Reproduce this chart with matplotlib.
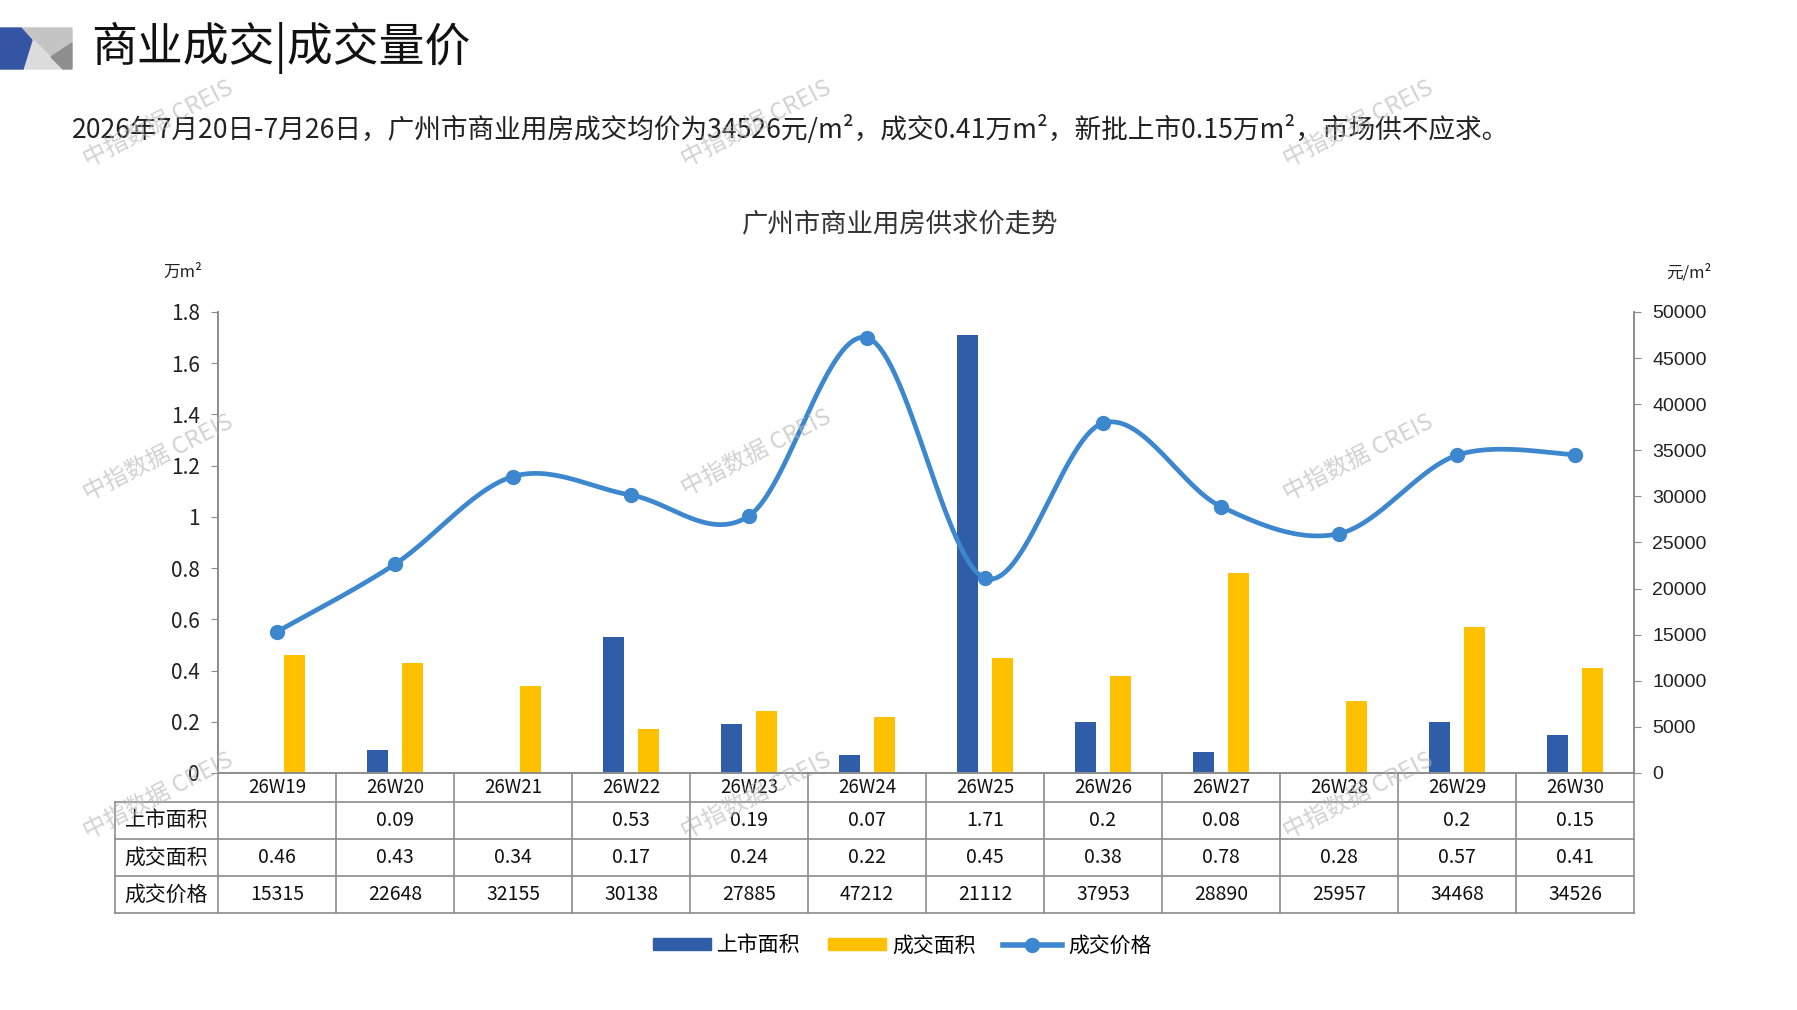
import matplotlib
matplotlib.use('Agg')
import matplotlib.pyplot as plt
from matplotlib.patches import Polygon, Patch
from matplotlib.lines import Line2D
import numpy as np

plt.rcParams['font.family'] = ['Noto Sans CJK SC', 'DejaVu Sans']

weeks = ['26W19', '26W20', '26W21', '26W22', '26W23', '26W24',
         '26W25', '26W26', '26W27', '26W28', '26W29', '26W30']
supply = [None, 0.09, None, 0.53, 0.19, 0.07, 1.71, 0.2, 0.08, None, 0.2, 0.15]
deal = [0.46, 0.43, 0.34, 0.17, 0.24, 0.22, 0.45, 0.38, 0.78, 0.28, 0.57, 0.41]
price = [15315, 22648, 32155, 30138, 27885, 47212, 21112, 37953, 28890, 25957, 34468, 34526]
row_names = ['上市面积', '成交面积', '成交价格']
left_ticks = [0, 0.2, 0.4, 0.6, 0.8, 1, 1.2, 1.4, 1.6, 1.8]
right_ticks = list(range(0, 50001, 5000))

BLUE = '#2F5DA8'
YELLOW = '#FFC000'
LINE = '#3D87CF'
GRID = '#8C8C8C'


def smooth(xs, ys, n=30):
    # bezier curve through the points, like a smoothed office line
    p = np.column_stack([xs, ys]).astype(float)
    out = []
    for i in range(len(p) - 1):
        p0 = p[i - 1] if i > 0 else p[i]
        p1, p2 = p[i], p[i + 1]
        p3 = p[i + 2] if i + 2 < len(p) else p[i + 1]
        c1 = p1 + (p2 - p0) / 6
        c2 = p2 - (p3 - p1) / 6
        t = np.linspace(0, 1, n)[:, None]
        seg = (1 - t) ** 3 * p1 + 3 * (1 - t) ** 2 * t * c1 + 3 * (1 - t) * t ** 2 * c2 + t ** 3 * p2
        out.append(seg if i == 0 else seg[1:])
    out = np.vstack(out)
    return out[:, 0], out[:, 1]


fig = plt.figure(figsize=(17.97, 10.10), dpi=100)

# header logo
W, H = 1797, 1010
def px(pts):
    return [(x / W, 1 - y / H) for x, y in pts]
fig.patches.append(Polygon(px([(21, 28), (72, 28), (72, 43), (51, 57)]), closed=True,
                           transform=fig.transFigure, color='#C4C4C4'))
fig.patches.append(Polygon(px([(21, 28), (63, 69), (23, 69), (32, 40)]), closed=True,
                           transform=fig.transFigure, color='#DCDCDC'))
fig.patches.append(Polygon(px([(72, 43), (51, 57), (63, 69), (72, 69)]), closed=True,
                           transform=fig.transFigure, color='#8E8E8E'))
fig.patches.append(Polygon(px([(0, 28), (21, 28), (32, 40), (23, 69), (0, 69)]), closed=True,
                           transform=fig.transFigure, color='#3455A4'))

fig.text(0.051, 0.9525, '商业成交|成交量价', fontsize=33, va='center', ha='left', color='#111111')
fig.text(0.040, 0.8718,
         '2026年7月20日-7月26日，广州市商业用房成交均价为34526元/m²，成交0.41万m²，新批上市0.15万m²，市场供不应求。',
         fontsize=19.2, va='center', ha='left', color='#222222')
fig.text(0.5008, 0.7776, '广州市商业用房供求价走势', fontsize=19, ha='center', va='center', color='#333333')
fig.text(0.102, 0.730, '万m²', fontsize=12, ha='center', va='center', color='#222222')
fig.text(0.940, 0.730, '元/m²', fontsize=12, ha='center', va='center', color='#222222')

ax = fig.add_axes([0.1213, 0.2347, 0.9093 - 0.1213, 0.6911 - 0.2347])
x = np.arange(len(weeks))
sup_vals = [v if v is not None else 0 for v in supply]
ax.bar(x - 0.145, sup_vals, width=0.178, color=BLUE, zorder=2)
ax.bar(x + 0.145, deal, width=0.178, color=YELLOW, zorder=2)
ax.set_xlim(-0.5, len(weeks) - 0.5)
ax.set_ylim(0, 1.8)
ax.set_yticks(left_ticks)
ax.set_yticklabels([f'{t:g}' for t in left_ticks], fontsize=15, color='#222222')
ax.set_xticks([])
ax.spines['top'].set_visible(False)
for s in ['left', 'right', 'bottom']:
    ax.spines[s].set_color(GRID)
    ax.spines[s].set_linewidth(1.2)
ax.tick_params(axis='y', direction='out', length=5, color=GRID, pad=8)

ax2 = ax.twinx()
sx, sy = smooth(x, price)
ax2.plot(sx, sy, color=LINE, lw=3.4, solid_capstyle='round', zorder=3)
ax2.plot(x, price, 'o', color=LINE, ms=10, zorder=4)
ax2.set_ylim(0, 50000)
ax2.set_yticks(right_ticks)
ax2.set_yticklabels([str(t) for t in right_ticks], fontsize=14, family='Liberation Sans', color='#222222')
ax2.spines['top'].set_visible(False)
for s in ['left', 'right', 'bottom']:
    ax2.spines[s].set_color(GRID)
    ax2.spines[s].set_linewidth(1.2)
ax2.tick_params(axis='y', direction='out', length=5, color=GRID, pad=8)

# data table under the chart
tr = ax.get_xaxis_transform()
rows_y = [0, -0.0629, -0.1432, -0.2234, -0.3037]
x_left = -1.373
x_right = len(weeks) - 0.5
kw = dict(transform=tr, color=GRID, lw=1.2, clip_on=False)
for yy in rows_y[1:]:
    ax.plot([x_left, x_right], [yy, yy], **kw)
ax.plot([x_left, x_left], [rows_y[1], rows_y[-1]], **kw)
for i in range(len(weeks) + 1):
    ax.plot([i - 0.5, i - 0.5], [0, rows_y[-1]], **kw)

cells = [
    ['' if v is None else f'{v:g}' for v in supply],
    [f'{v:g}' for v in deal],
    [str(v) for v in price],
]
hy = (rows_y[0] + rows_y[1]) / 2
for i, wk in enumerate(weeks):
    ax.text(i, hy, wk, transform=tr, ha='center', va='center', fontsize=13.5, color='#111111')
for r, name in enumerate(row_names):
    cy = (rows_y[r + 1] + rows_y[r + 2]) / 2
    ax.text((x_left - 0.5) / 2, cy, name, transform=tr, ha='center', va='center',
            fontsize=15, color='#111111')
    for i, val in enumerate(cells[r]):
        ax.text(i, cy, val, transform=tr, ha='center', va='center', fontsize=14, color='#111111')

# legend
handles = [Patch(color=BLUE), Patch(color=YELLOW),
           Line2D([], [], color=LINE, lw=4, marker='o', ms=10)]
fig.legend(handles, ['上市面积', '成交面积', '成交价格'], loc='center', bbox_to_anchor=(0.502, 0.0639),
           ncol=3, frameon=False, fontsize=15, handlelength=2.8, handleheight=0.5,
           columnspacing=1.3, handletextpad=0.3)

# watermarks
marks = [(158, 124), (756, 124), (1358, 124), (158, 458), (756, 453), (1358, 458),
         (158, 796), (756, 796), (1358, 796)]
for mx, my in marks:
    fig.text(mx / W, 1 - my / H, '中指数据 CREIS', fontsize=17, color='#B4B4B4', alpha=0.6,
             rotation=27, ha='center', va='center', zorder=10)

fig.savefig('out.png', dpi=100)
